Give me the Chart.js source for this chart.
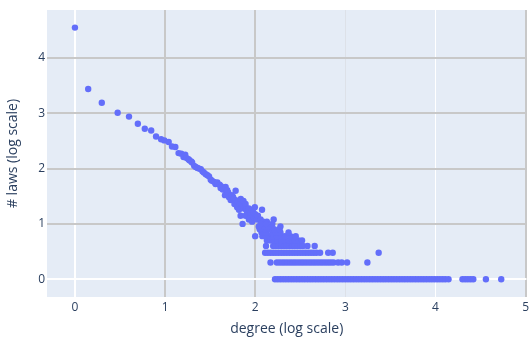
<!DOCTYPE html>
<html><head><meta charset="utf-8">
<script src="https://cdn.jsdelivr.net/npm/chart.js@4"></script>
<style>html,body{margin:0;padding:0;background:#fff;}canvas{display:block;}</style>
</head><body>
<canvas id="c" width="532" height="338" style="width:532px;height:338px"></canvas>
<script>
// tick labels
const xTicks = [0, 1, 2, 3, 4, 5];
const yTicks = [0, 1, 2, 3, 4];

// log10(degree), log10(# laws)
const headX = [0, 0.147, 0.298, 0.474, 0.60, 0.698, 0.775, 0.846, 0.90, 0.956, 0.992, 1.04, 1.077, 1.114];
const headY = [4.55, 3.44, 3.19, 3.01, 2.94, 2.81, 2.72, 2.69, 2.58, 2.53, 2.51, 2.48, 2.40, 2.39];

const bandX = [1.15, 1.18, 1.205, 1.224, 1.24, 1.26, 1.27, 1.29, 1.30, 1.323, 1.34, 1.36, 1.38, 1.397, 1.415, 1.43, 1.452, 1.47, 1.488, 1.507, 1.52, 1.544, 1.56, 1.58, 1.606, 1.617, 1.62, 1.635, 1.64, 1.665, 1.672, 1.68, 1.69, 1.70, 1.71, 1.728, 1.74, 1.753, 1.76, 1.77, 1.783, 1.783, 1.79, 1.80, 1.80, 1.81, 1.82, 1.83, 1.838, 1.84, 1.85, 1.856, 1.87, 1.874, 1.89, 1.893, 1.893, 1.90, 1.91, 1.93, 1.93, 1.94, 1.948, 1.95, 1.966, 1.966, 1.98, 1.985, 1.996, 2.0, 2.01, 2.02, 2.03, 2.06, 2.076, 2.09, 2.13, 2.205];
const bandY = [2.28, 2.27, 2.21, 2.25, 2.19, 2.17, 2.15, 2.13, 2.11, 2.05, 2.03, 2.01, 2.0, 1.99, 1.95, 1.93, 1.90, 1.88, 1.86, 1.80, 1.78, 1.76, 1.72, 1.75, 1.71, 1.65, 1.68, 1.66, 1.62, 1.52, 1.67, 1.58, 1.61, 1.57, 1.48, 1.43, 1.52, 1.49, 1.46, 1.36, 1.60, 1.43, 1.38, 1.30, 1.34, 1.40, 1.255, 1.36, 1.146, 1.45, 1.30, 1.34, 1.415, 1.28, 1.32, 1.36, 1.146, 1.255, 1.23, 1.28, 1.079, 1.114, 1.176, 1.204, 1.255, 1.041, 1.204, 1.114, 1.30, 1.176, 1.114, 1.079, 1.146, 1.079, 1.255, 1.041, 1.041, 1.079];

// rows of equal # laws (log10 of 1..10)
const rowLevels = [0, 0.301, 0.477, 0.602, 0.699, 0.778, 0.845, 0.903, 0.954, 1.0];
const count1X = [2.22, 2.25, 2.28, 2.31, 2.34, 2.37, 2.40, 2.43, 2.46, 2.49, 2.52, 2.55, 2.58, 2.61, 2.64, 2.67, 2.70, 2.73, 2.76, 2.79, 2.82, 2.85, 2.88, 2.91, 2.94, 2.97, 3.00, 3.03, 3.06, 3.09, 3.12, 3.15, 3.18, 3.21, 3.24, 3.27, 3.30, 3.33, 3.36, 3.39, 3.42, 3.45, 3.48, 3.51, 3.54, 3.57, 3.60, 3.63, 3.66, 3.69, 3.72, 3.75, 3.78, 3.81, 3.84, 3.87, 3.90, 3.93, 3.96, 3.99, 4.02, 4.05, 4.08, 4.11, 4.145, 4.30, 4.33, 4.36, 4.39, 4.42, 4.56, 4.73];
const count2X = [2.17, 2.24, 2.27, 2.30, 2.33, 2.36, 2.39, 2.42, 2.45, 2.48, 2.51, 2.54, 2.57, 2.60, 2.63, 2.66, 2.69, 2.72, 2.75, 2.78, 2.81, 2.84, 2.87, 2.92, 2.96, 3.02, 3.245];
const count3X = [2.11, 2.14, 2.17, 2.20, 2.23, 2.26, 2.29, 2.32, 2.35, 2.38, 2.41, 2.44, 2.47, 2.50, 2.53, 2.56, 2.59, 2.62, 2.65, 2.68, 2.72, 2.81, 2.86, 3.37];
const count4X = [2.12, 2.20, 2.23, 2.26, 2.29, 2.32, 2.35, 2.38, 2.41, 2.44, 2.47, 2.50, 2.53, 2.58, 2.66];
const count5X = [2.13, 2.17, 2.21, 2.25, 2.29, 2.33, 2.37, 2.41, 2.44, 2.48, 2.52];
const count6X = [2.00, 2.08, 2.12, 2.16, 2.20, 2.24, 2.29, 2.33, 2.39, 2.45];
const count7X = [2.07, 2.12, 2.19, 2.23, 2.28, 2.37];
const count8X = [2.05, 2.11, 2.16, 2.21, 2.27];
const count9X = [2.04, 2.10, 2.15, 2.28];
const count10X = [1.86, 2.06, 2.12, 2.19];
const rowXs = [count1X, count2X, count3X, count4X, count5X, count6X, count7X, count8X, count9X, count10X];

const points = [];
headX.forEach((x, i) => points.push({x: x, y: headY[i]}));
bandX.forEach((x, i) => points.push({x: x, y: bandY[i]}));
rowXs.forEach((xs, r) => xs.forEach(x => points.push({x: x, y: rowLevels[r]})));

const FONT = "'Open Sans', 'Noto Sans', sans-serif";
const TEXT = '#2a3f5f';

const bgPlugin = {
  id: 'bg',
  beforeDraw(chart) {
    const a = chart.chartArea, ctx = chart.ctx;
    ctx.save();
    ctx.fillStyle = '#e5ecf6';
    ctx.fillRect(a.left, a.top, a.right - a.left, a.bottom - a.top);
    ctx.restore();
  }
};

function xGridColor(c) {
  const v = c.tick && c.tick.value;
  if (v === 0 || v === 4) return '#ffffff';
  if (v === 3) return '#dde1e8';
  return '#c8c8c8';
}
function xGridWidth(c) {
  const v = c.tick && c.tick.value;
  if (v === 0) return 2;
  if (v === 3 || v === 4) return 1;
  return 2;
}
function yGridColor(c) {
  const v = c.tick && c.tick.value;
  return v === 0 ? '#ffffff' : '#c8c8c8';
}

new Chart(document.getElementById('c'), {
  type: 'scatter',
  data: {
    datasets: [{
      data: points,
      backgroundColor: '#636efa',
      borderWidth: 0,
      pointRadius: 3.2,
      pointHoverRadius: 3.2
    }]
  },
  options: {
    responsive: false,
    animation: false,
    events: [],
    layout: {padding: {top: 10, right: 2, left: 0, bottom: 0}},
    plugins: {legend: {display: false}, tooltip: {enabled: false}},
    scales: {
      x: {
        type: 'linear',
        min: -0.31,
        max: 5.01,
        afterBuildTicks: s => { s.ticks = xTicks.map(v => ({value: v})); },
        afterFit: s => { s.height = 41; },
        ticks: {font: {family: FONT, size: 12}, color: TEXT, padding: 3, callback: v => String(v)},
        grid: {color: xGridColor, lineWidth: xGridWidth, drawTicks: false},
        border: {display: false},
        title: {display: true, text: 'degree (log scale)', font: {family: FONT, size: 14}, color: TEXT, padding: {top: 0, bottom: 1}}
      },
      y: {
        type: 'linear',
        min: -0.322,
        max: 4.868,
        afterBuildTicks: s => { s.ticks = yTicks.map(v => ({value: v})); },
        afterFit: s => { s.width = 47; },
        ticks: {font: {family: FONT, size: 12}, color: TEXT, padding: 2, callback: v => String(v)},
        grid: {color: yGridColor, lineWidth: 2, drawTicks: false},
        border: {display: false},
        title: {display: true, text: '# laws (log scale)', font: {family: FONT, size: 14}, color: TEXT, padding: {top: 5, bottom: 0}}
      }
    }
  },
  plugins: [bgPlugin]
});
</script>
</body></html>
